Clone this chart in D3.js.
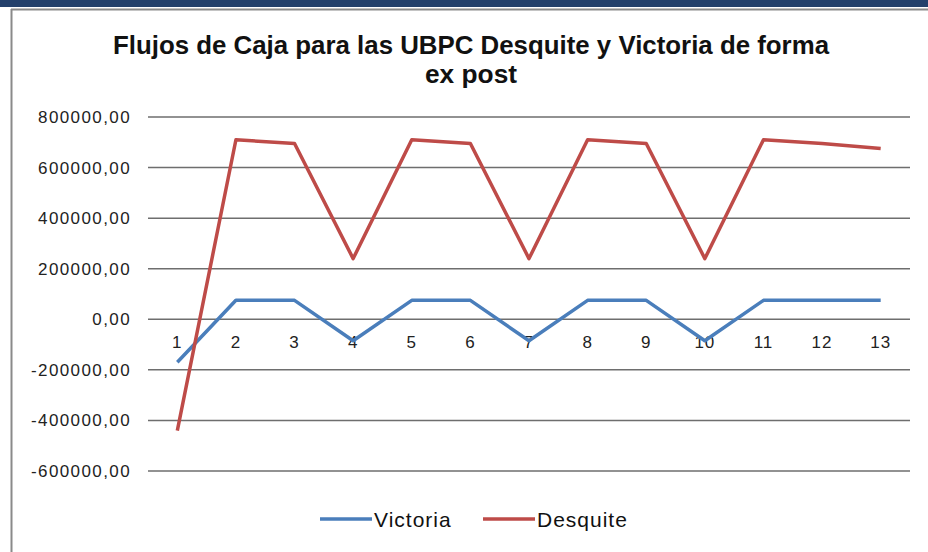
<!DOCTYPE html>
<html>
<head>
<meta charset="utf-8">
<script src="https://cdn.jsdelivr.net/npm/d3@7"></script>
<style>
  body { margin: 0; background: #fff; }
  svg { display: block; }
</style>
</head>
<body>
<div class="chart"></div>
<script>
// data
var periods = ["1", "2", "3", "4", "5", "6", "7", "8", "9", "10", "11", "12", "13"];
var victoria = [-170000, 75000, 75000, -85000, 75000, 75000, -85000, 75000, 75000, -85000, 75000, 75000, 75000];
var desquite = [-440000, 710000, 695000, 240000, 710000, 695000, 240000, 710000, 695000, 240000, 710000, 695000, 675000];
var yTicks = [-600000, -400000, -200000, 0, 200000, 400000, 600000, 800000];

var svgWidth = 928;
var svgHeight = 552;

var margin = { top: 117, right: 18, bottom: 81, left: 148 };
var width = svgWidth - margin.left - margin.right;
var height = svgHeight - margin.top - margin.bottom;

var svg = d3.select(".chart")
  .append("svg")
  .attr("width", svgWidth)
  .attr("height", svgHeight);

// dark band + chart frame (spreadsheet screenshot look)
svg.append("rect").attr("x", 0).attr("y", 0).attr("width", svgWidth).attr("height", 7).attr("fill", "#23406b");
svg.append("line").attr("x1", 11).attr("x2", svgWidth).attr("y1", 9.5).attr("y2", 9.5)
  .attr("stroke", "#8a8a8a").attr("stroke-width", 2);
svg.append("line").attr("x1", 11.5).attr("x2", 11.5).attr("y1", 9).attr("y2", svgHeight)
  .attr("stroke", "#8a8a8a").attr("stroke-width", 2);

// title (condensed look: squeeze the glyphs to the reference width)
var title = svg.append("text")
  .attr("text-anchor", "middle")
  .attr("font-family", "'Liberation Sans', Arial, sans-serif")
  .attr("font-weight", "bold")
  .attr("font-size", "25px")
  .attr("fill", "#111");
title.append("tspan").attr("x", 471).attr("y", 54)
  .attr("textLength", 716).attr("lengthAdjust", "spacingAndGlyphs")
  .text("Flujos de Caja para las UBPC Desquite y Victoria de forma");
title.append("tspan").attr("x", 471).attr("y", 83)
  .attr("textLength", 92).attr("lengthAdjust", "spacingAndGlyphs")
  .text("ex post");

var chart = svg.append("g")
  .attr("transform", "translate(" + margin.left + "," + margin.top + ")");

var x = d3.scaleBand().domain(periods).range([0, width]);
var y = d3.scaleLinear().domain([-600000, 800000]).range([354, 0]);

// gridlines
chart.append("g")
  .selectAll("line")
  .data(yTicks)
  .enter()
  .append("line")
  .attr("x1", 0)
  .attr("x2", width)
  .attr("y1", function(d) { return y(d); })
  .attr("y2", function(d) { return y(d); })
  .attr("stroke", "#6e6e6e")
  .attr("stroke-width", 1.5);

// y axis labels
var fmt = function(d) { return d3.format(".2f")(d).replace(".", ",").replace("\u2212", "-"); };
var leftAxis = d3.axisLeft(y).tickValues(yTicks).tickFormat(fmt).tickSize(0).tickPadding(17);
var yAxis = chart.append("g").call(leftAxis);
yAxis.select(".domain").remove();
yAxis.selectAll("text")
  .attr("font-family", "'Liberation Sans', Arial, sans-serif")
  .attr("font-size", "17px")
  .attr("letter-spacing", "1.4px")
  .attr("fill", "#222");

// x axis labels, sitting just below the zero line
var bottomAxis = d3.axisBottom(x).tickSize(0).tickPadding(17);
var xAxis = chart.append("g").attr("transform", "translate(0," + y(0) + ")").call(bottomAxis);
xAxis.select(".domain").remove();
xAxis.selectAll("text")
  .attr("font-family", "'Liberation Sans', Arial, sans-serif")
  .attr("font-size", "17px")
  .attr("letter-spacing", "1px")
  .attr("fill", "#222");

var line = d3.line()
  .x(function(d, i) { return x(periods[i]) + x.bandwidth() / 2; })
  .y(function(d) { return y(d); });

chart.append("path").datum(victoria)
  .attr("fill", "none").attr("stroke", "#4a7ebb").attr("stroke-width", 3.5)
  .attr("stroke-linejoin", "round").attr("d", line);

chart.append("path").datum(desquite)
  .attr("fill", "none").attr("stroke", "#be4b48").attr("stroke-width", 3.5)
  .attr("stroke-linejoin", "round").attr("d", line);

// legend
var legend = [
  { name: "Victoria", color: "#4a7ebb", x: 320 },
  { name: "Desquite", color: "#be4b48", x: 483 }
];
var lg = svg.selectAll(".legend").data(legend).enter().append("g")
  .attr("class", "legend")
  .attr("transform", function(d) { return "translate(" + d.x + ",519)"; });
lg.append("line").attr("x1", 0).attr("x2", 52).attr("y1", 0).attr("y2", 0)
  .attr("stroke", function(d) { return d.color; }).attr("stroke-width", 3.5);
lg.append("text").attr("x", 54).attr("y", 8)
  .attr("font-family", "'Liberation Sans', Arial, sans-serif")
  .attr("font-size", "21px")
  .attr("letter-spacing", "1px")
  .attr("fill", "#111")
  .text(function(d) { return d.name; });
</script>
</body>
</html>
